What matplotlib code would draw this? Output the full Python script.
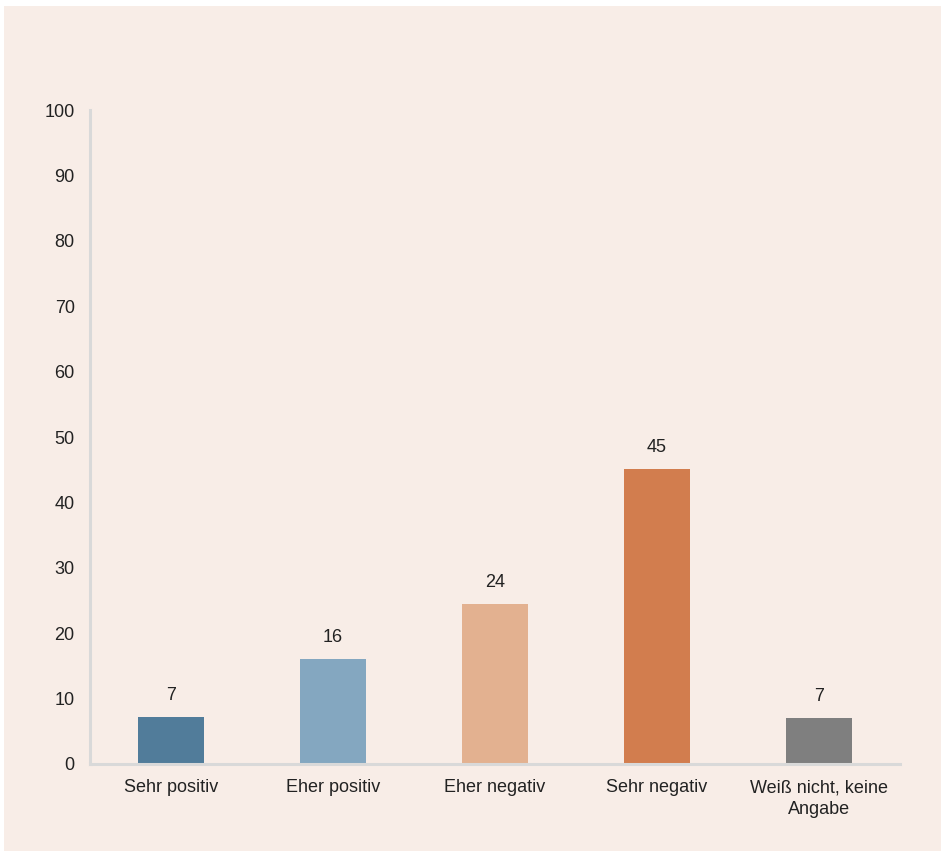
import matplotlib
matplotlib.use("Agg")
import matplotlib.pyplot as plt
from matplotlib.patches import Rectangle

categories = ["Sehr positiv", "Eher positiv", "Eher negativ", "Sehr negativ", "Weiß nicht, keine\nAngabe"]
values = [7.2, 16.1, 24.4, 45.1, 7.0]
labels = ["7", "16", "24", "45", "7"]
colors = ["#517C9A", "#84A7C0", "#E3B190", "#D27D4E", "#7F7F7F"]
yticks = [0, 10, 20, 30, 40, 50, 60, 70, 80, 90, 100]

plt.rcParams['font.family'] = ['Liberation Sans', 'DejaVu Sans']

W, H = 946, 856
fig = plt.figure(figsize=(W / 100, H / 100), dpi=100)
fig.patch.set_facecolor("white")
bg = "#F8EDE7"
panel = Rectangle((4 / W, 1 - 851 / H), 937 / W, 845 / H,
                  transform=fig.transFigure, facecolor=bg,
                  edgecolor="none", zorder=-10)
fig.add_artist(panel)

ax = fig.add_axes([90 / W, 1 - 764 / H, 810 / W, 654 / H])
ax.set_zorder(1)
ax.set_facecolor("none")
x = list(range(len(categories)))
bars = ax.bar(x, values, width=0.405, color=colors, zorder=2)
for xi, v, lab in zip(x, values, labels):
    ax.annotate(lab, (xi, v), xytext=(0, 9.5), textcoords="offset points",
                ha="center", va="bottom", fontsize=13, color="#222222")

ax.set_xlim(-0.5, 4.5)
ax.set_ylim(0, 100)
ax.set_yticks(yticks)
ax.set_xticks(x)
ax.set_xticklabels(categories, fontsize=13, color="#222222", linespacing=1.35)
ax.tick_params(axis="y", length=0, pad=11, labelsize=13, labelcolor="#222222")
ax.tick_params(axis="x", length=0, pad=11)
for s in ["top", "right"]:
    ax.spines[s].set_visible(False)
for s in ["left", "bottom"]:
    ax.spines[s].set_color("#D9D9D9")
    ax.spines[s].set_linewidth(2.2)

fig.savefig("out.png", dpi=100, facecolor=fig.get_facecolor())
